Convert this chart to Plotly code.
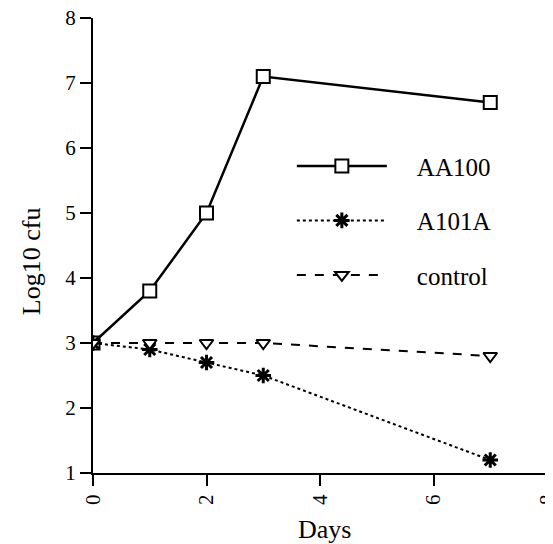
import plotly.graph_objects as go

days = [0, 1, 2, 3, 7]
aa100 = [3.0, 3.8, 5.0, 7.1, 6.7]
a101a = [3.0, 2.9, 2.7, 2.5, 1.2]
control = [3.0, 3.0, 3.0, 3.0, 2.8]
series_names = ["AA100", "A101A", "control"]
x_ticks = [0, 2, 4, 6, 8]
y_ticks = [1, 2, 3, 4, 5, 6, 7, 8]

FONT = "Liberation Serif"
PAD = "\u00a0\u00a0\u00a0\u00a0"

fig = go.Figure()
fig.add_trace(go.Scatter(
    x=days, y=aa100, name=PAD + series_names[0], mode="lines+markers", legendgroup="a",
    line=dict(color="black", width=2.5, dash="solid"),
    marker=dict(symbol="square", size=13, color="white", line=dict(color="black", width=2)),
))
fig.add_trace(go.Scatter(
    x=days, y=a101a, name=PAD + series_names[1], mode="lines+markers", legendgroup="b",
    line=dict(color="black", width=2, dash="dot"),
    marker=dict(symbol="asterisk-open", size=13, color="black", line=dict(color="black", width=3)),
))
fig.add_trace(go.Scatter(
    x=days, y=control, name=PAD + series_names[2], mode="lines+markers", legendgroup="c",
    line=dict(color="black", width=2, dash="dash"),
    marker=dict(symbol="triangle-down", size=12, color="white", line=dict(color="black", width=2)),
))

fig.update_layout(
    width=545, height=536,
    margin=dict(l=85, r=6, t=10, b=71),
    paper_bgcolor="white", plot_bgcolor="white",
    font=dict(family=FONT, color="black", size=21),
    legend=dict(
        x=0.438, y=0.725, xanchor="left", yanchor="top",
        font=dict(family=FONT, size=25, color="black"),
        bgcolor="rgba(0,0,0,0)", itemwidth=90, tracegroupgap=19,
    ),
    xaxis=dict(
        range=[0, 8], tickvals=x_ticks, ticks="outside", ticklen=11, tickwidth=2,
        tickcolor="black", showline=True, linecolor="black", linewidth=2,
        showgrid=False, zeroline=False, tickangle=-90,
        tickfont=dict(family=FONT, size=21), ticklabeloverflow="allow",
        automargin=False,
    ),
    yaxis=dict(
        range=[1, 8], tickvals=y_ticks, ticks="outside", ticklen=11, tickwidth=2,
        tickcolor="black", showline=True, linecolor="black", linewidth=2,
        showgrid=False, zeroline=False,
        tickfont=dict(family=FONT, size=21), ticklabeloverflow="allow",
        automargin=False,
    ),
    annotations=[
        dict(text="Days", xref="paper", yref="paper", x=0.511, y=-0.125,
             xanchor="center", yanchor="middle", showarrow=False,
             font=dict(family=FONT, size=26, color="black")),
        dict(text="Log10 cfu", xref="paper", yref="paper", x=-0.134, y=0.466,
             xanchor="center", yanchor="middle", textangle=-90, showarrow=False,
             font=dict(family=FONT, size=26, color="black")),
    ],
)

fig.write_html("out.html")
